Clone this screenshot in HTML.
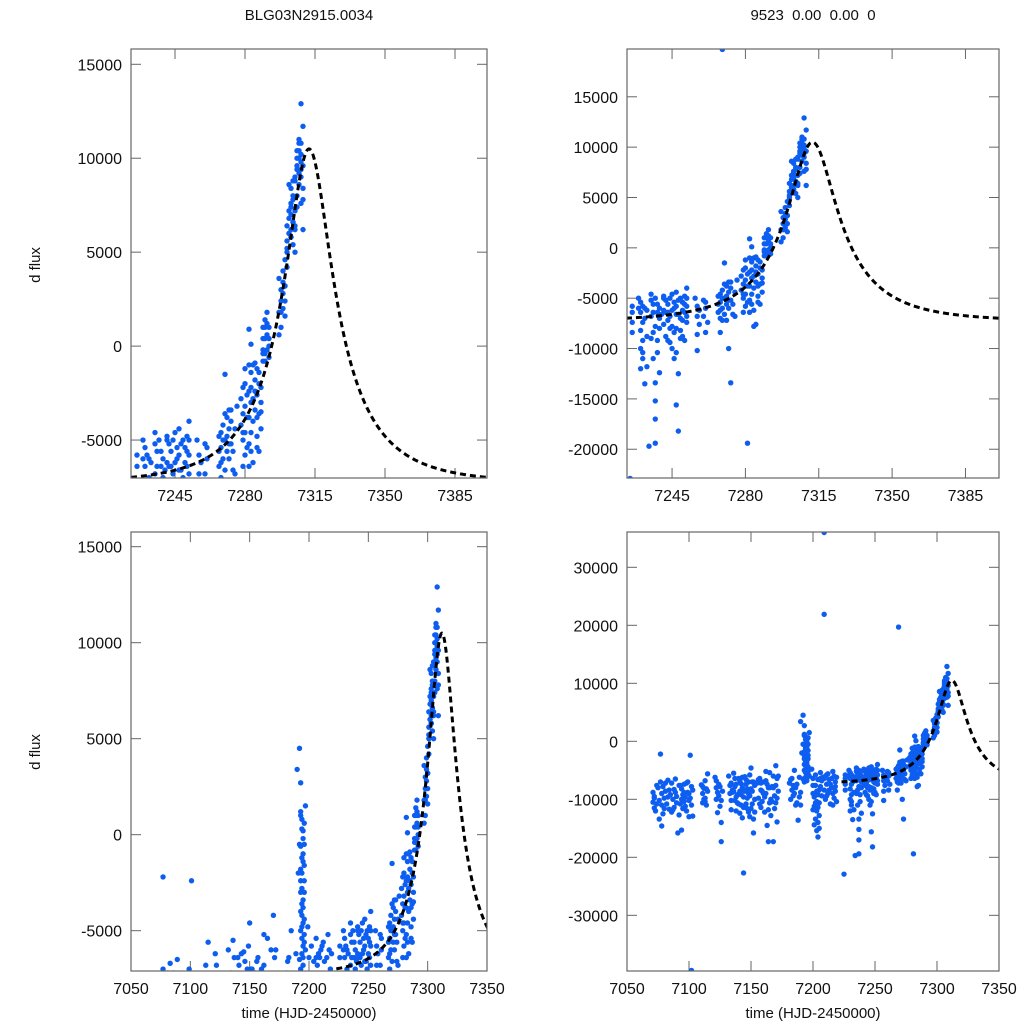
<!DOCTYPE html>
<html><head><meta charset="utf-8">
<style>
html,body{margin:0;padding:0;background:#fff;width:1024px;height:1024px;overflow:hidden;}
svg{display:block;font-family:"Liberation Sans",sans-serif;}
</style></head>
<body>
<svg id="chart" width="1024" height="1024" viewBox="0 0 1024 1024" xmlns="http://www.w3.org/2000/svg">
<text x="309" y="20" font-size="15" text-anchor="middle" fill="#111">BLG03N2915.0034</text>
<text x="813" y="20" font-size="15" text-anchor="middle" fill="#111" xml:space="preserve">9523  0.00  0.00  0</text>
<text x="0" y="0" font-size="15" text-anchor="middle" fill="#111" transform="translate(40,265) rotate(-90)">d flux</text>
<text x="0" y="0" font-size="15" text-anchor="middle" fill="#111" transform="translate(40,752) rotate(-90)">d flux</text>
<text x="309" y="1018" font-size="15" text-anchor="middle" fill="#111">time (HJD-2450000)</text>
<text x="813" y="1018" font-size="15" text-anchor="middle" fill="#111">time (HJD-2450000)</text>
</svg>
<script>
// observations: time (HJD-2450000) and difference flux
const times = [
7071,7071,7072,7072,7073,7074,7075,7076,7077,7077,
7078,7078,7078,7079,7079,7080,7081,7082,7083,7084,
7085,7086,7086,7087,7088,7088,7089,7090,7091,7092,
7093,7094,7095,7096,7097,7098,7099,7100,7101,7102,
7093,7095,7097,7099,7101,7103,7103,7100,7096,7094,
7110,7111,7111,7112,7113,7113,7114,7115,7115,7112,
7121,7122,7122,7123,7124,7124,7125,7126,7126,7127,
7132,7133,7134,7134,7135,7136,7137,7137,7138,7139,
7140,7141,7142,7142,7143,7144,7144,7145,7146,7147,
7148,7148,7149,7150,7150,7151,7152,7152,7153,7153,
7135,7139,7143,7146,7149,7151,7138,7145,7141,7147,
7155,7156,7157,7158,7158,7159,7160,7161,7162,7162,
7163,7164,7164,7165,7165,7166,7167,7168,7169,7170,
7170,7171,7171,7172,7160,7166,7168,7157,7163,7169,
7181,7182,7183,7184,7185,7186,7187,7188,7189,7190,
7182,7186,7184,
7190,7191,7192,7192,7193,7193,7193,7194,7194,7194,
7195,7195,7195,7196,7196,7196,7197,7197,7192,7193,
7193,7194,7194,7195,7195,7196,7196,7194,7195,7193,
7199,7200,7200,7201,7202,7202,7203,7203,7204,7204,
7205,7205,7206,7207,7201,7200,7203,7206,7204,7207,
7208,7209,7209,7209,7210,7211,7212,7213,7214,7215,
7216,7217,7218,7219,7212,7216,7218,7210,7214,7217,
7225,7226,7226,7226,7229,7230,7230,7230,7230,7231,
7231,7231,7232,7232,7233,7234,7235,7235,7235,7236,
7236,7237,7237,7237,7237,7237,7238,7238,7239,7239,
7241,7241,7242,7242,7243,7243,7244,7244,7245,7245,
7246,7246,7247,7247,7247,7248,7248,7248,7249,7249,
7250,7250,7250,7251,7251,7252,7252,7252,7246,7244,
7256,7257,7257,7257,7258,7260,7260,7261,7261,7262,
7267,7267,7268,7268,7268,7269,7269,7269,7270,7270,
7271,7271,7271,7272,7272,7272,7273,7273,7273,7274,
7278,7278,7279,7279,7279,7280,7280,7280,7281,7281,
7282,7282,7282,7283,7283,7283,7284,7284,7284,7285,
7285,7285,7286,7286,7286,7287,7287,7287,7288,7288,
7282,7283,7285,
7289,7289,7289,7290,7290,7290,7291,7291,7292,7292,
7297,7297,7297,7298,7298,7298,7299,7299,7300,7300,
7300,7300,7301,7301,7301,7302,7302,7302,7303,7303,
7303,7303,7304,7304,7304,7305,7305,7305,7306,7306,
7306,7306,7307,7307,7307,7308,7308,7308,7309,7309,
7309,7308,7304,7307
];
const fluxes = [
-8800,-10500,-11500,-9500,-12000,-10800,-8000,-13400,-7000,-2200,
-9000,-11000,-14600,-7800,-12500,-9800,-8600,-10800,-6700,-11700,
-9200,-7200,-12200,-10000,-8300,-11400,-6500,-9500,-15800,-12700,
-10800,-8200,-11600,-7400,-9600,-12000,-8800,-10200,-2400,-39500,
-7600,-9200,-11200,-7000,-9800,-8400,-12900,-13000,-10400,-15300,
-7500,-9000,-10600,-8100,-6800,-9800,-11000,-8600,-5600,-10000,
-6200,-8000,-10000,-12300,-7400,-9400,-11200,-14000,-17300,-8600,
-6000,-9000,-7200,-11800,-8400,-5500,-10200,-7800,-12000,-9200,
-6400,-8600,-11000,-7300,-13200,-9600,-22700,-6100,-10800,-8200,
-12200,-7000,-9400,-4600,-11600,-8600,-13400,-15800,-7600,-10000,
-8800,-10600,-8000,-7400,-13000,-7000,-9600,-11200,-12400,-9800,
-7200,-9800,-6400,-11400,-8400,-10400,-7000,-12200,-5200,-9000,
-14500,-8000,-17300,-10600,-5400,-12800,-7800,-17300,-9400,-4200,
-10600,-6400,-13900,-8600,-9000,-10000,-6000,-10800,-7400,-11600,
-7200,-10000,-8400,-9400,-5000,-8000,-10600,-13600,-6200,-8800,
-6600,-11000,-7600,
3400,-2000,4500,-500,2700,1000,-3000,-4800,-1200,300,
-6800,-3800,-5800,600,-2400,-4400,1500,-6000,-6500,-7000,
-1800,-2800,-5400,-1000,-3400,-500,-5200,-6200,200,-4000,
-4800,-6400,-9000,-11200,-7600,-13400,-8600,-15400,-6600,-16500,
-10600,-12800,-7800,-9400,-14400,-11800,-10400,-5400,-14000,-6800,
-6200,-8400,21900,36000,-10000,-7400,-9000,-6600,-10800,-8000,
-5200,-9800,-7000,-10400,-5600,-11000,-8600,-6000,-7400,-6000,
-22900,-6400,-8400,-7400,-5000,-6400,-8200,-10000,-12000,-7400,
-9200,-11000,-13500,-6000,-8800,-19700,-4600,-6800,-9000,-11000,
-5600,-7800,-13400,-15200,-17000,-19400,-6400,-9200,-7000,-8000,
-5000,-7600,-6400,-8800,-5600,-7200,-6800,-9400,-4600,-7800,
-6000,-8400,-6600,-10400,-15600,-18200,-5200,-12500,-7000,-9000,
-5400,-7200,-8800,-4800,-6400,-4000,-5800,-7400,-11000,-8000,
-5000,-6800,-8600,-10200,-7600,-5200,-6800,-8400,-6000,-7400,
-4800,-6400,-5400,-7000,-8400,19700,-4200,-6000,-5000,-1500,
-3800,-5600,-7200,-4400,-6000,-10000,-3400,-5200,-13400,-6600,
-2800,-4200,-3600,-5000,-6400,-2000,-3200,-4600,-19400,-2600,
-1000,-3800,-5200,-2200,-4600,-1400,-7800,-2800,-6200,-1800,
-3400,-7600,-1200,-2600,-4800,-2000,-3600,-5600,-3000,-3500,
900,100,-900,
1000,-200,-800,1400,400,-400,1800,600,0,1000,
600,1800,3600,2400,1000,3000,2000,4000,3200,1600,
3200,4600,5600,6400,5200,6800,8600,6000,7400,8400,
5800,7000,8000,6600,7800,9000,6200,7200,9600,10400,
8000,10000,9200,10800,11000,12900,9800,10200,11700,6200,
7800,9000,5400,10400
];
// additional observations (denser nights)
const times2 = [
7072,7074,7076,7080,7081,7083,7084,7087,7089,7090,
7092,7094,7096,7098,7100,7102,7102,7111,7113,7114,
7122,7123,7125,7126,7133,7134,7136,7137,7138,7140,
7141,7142,7143,7144,7145,7146,7147,7148,7149,7150,
7151,7152,7153,7156,7158,7159,7161,7162,7164,7165,
7167,7168,7170,7171,7172,7183,7185,7187,7189,7190,
7194,7193,7195,7194,7196,7193,7195,7194,7196,7193,
7195,7194,7196,7193,7195,
7200,7201,7202,7203,7204,7205,7206,7202,7205,7204,
7209,7211,7213,7215,7216,7218,7219,7211,
7226,7229,7230,7231,7232,7233,7235,7236,7237,7238,
7239,7240,7241,7242,7243,7244,7245,7246,7247,7248,
7249,7250,7251,7252,7252,7247,7241,7257,7258,7261,
7236,7238,7243,7245,7249,7251,7231,7233,7239,7247,
7267,7268,7269,7270,7271,7272,7272,7273,7274,7270,
7275,7276,7275,7269,7268,
7279,7280,7281,7281,7282,7283,7283,7284,7284,7285,
7286,7287,7288,7288,7280,7279,7282,7286,
7289,7290,7291,7291,7292,7290,7289,7292,
7298,7299,7299,7300,7301,7301,7302,7302,7303,7303,
7304,7304,7305,7305,7306,7306,7307,7307,7308,7308,
7309,7309,7308,7305,7303
];
const fluxes2 = [
-9800,-7600,-10200,-11600,-7200,-9600,-8400,-11800,-8800,-10600,
-7600,-10000,-8800,-7200,-9000,-11000,-7800,-7800,-10400,-8200,
-6800,-8800,-7800,-10200,-7600,-10200,-8600,-6400,-7400,-10800,
-6800,-9200,-6200,-11400,-8600,-6600,-11600,-9000,-5800,-8200,
-10800,-7000,-12200,-6600,-7200,-8600,-9600,-6800,-11800,-8000,
-10400,-8000,-7600,-9800,-6000,-6400,-9000,-7400,-9600,-11000,
-2000,-600,-4600,-3600,-1600,-5000,-6400,800,-3000,-2400,
-200,-4200,-5600,1200,-1400,
-7600,-9600,-10600,-12000,-9200,-8400,-6400,-5800,-15000,-11400,
-6400,-9400,-8400,-6400,-9000,-7800,-6200,-5800,
-5800,-6000,-5400,-5800,-7000,-6200,-5200,-6400,-5000,-5600,
-6000,-6600,-6200,-5200,-6400,-5000,-6200,-5400,-5800,-6600,
-5000,-6200,-5600,-6800,-5000,-4400,-4800,-5800,-6200,-5400,
-8400,-10400,-9200,-10000,-8200,-9200,-10400,-11800,-12400,-8000,
-5600,-4600,-5000,-6600,-4800,-3400,-5200,-4000,-5600,-3600,
-4400,-3200,-6800,-7200,-6200,
-2200,-1200,-3800,-5400,-2400,-3000,-5600,-1000,-4000,-2400,
-3800,-1400,-4400,-2200,-5800,-4600,-6400,-5400,
400,-800,1200,-200,400,1000,-400,-600,
1800,2800,3400,2400,4200,5000,6000,7200,5800,7600,
6600,8800,6400,8800,7400,9400,8600,10000,9400,10800,
9600,8400,7600,5000,6200
];
// microlensing model fit parameters
const modelT0 = [7312];
const modelTE = [40];
const modelU0 = [0.3];
const modelFs = [7280];
const modelBase = [-7300];
const modelRange = [7223, 7401];

// tick labels
const ticksTop = [7245, 7280, 7315, 7350, 7385];
const ticksBottom = [7050, 7100, 7150, 7200, 7250, 7300, 7350];
const yTicksTL = [-5000, 0, 5000, 10000, 15000];
const yTicksTR = [-20000, -15000, -10000, -5000, 0, 5000, 10000, 15000];
const yTicksBL = [-5000, 0, 5000, 10000, 15000];
const yTicksBR = [-30000, -20000, -10000, 0, 10000, 20000, 30000];

const allT = times.concat(times2);
const allF = fluxes.concat(fluxes2);

const NS = 'http://www.w3.org/2000/svg';
const svg = document.getElementById('chart');
const panels = [
  {name:'top-left', x0:131, x1:487, y0:49, y1:478, t0:7223, t1:7401, f0:-7020, f1:15814, xt:ticksTop, yt:yTicksTL},
  {name:'top-right', x0:627, x1:999, y0:49, y1:478, t0:7223.5, t1:7401, f0:-22856, f1:19746, xt:ticksTop, yt:yTicksTR},
  {name:'bottom-left', x0:131, x1:487, y0:532, y1:971, t0:7050, t1:7350, f0:-7100, f1:15765, xt:ticksBottom, yt:yTicksBL},
  {name:'bottom-right', x0:627, x1:999, y0:532, y1:971, t0:7050, t1:7350, f0:-39600, f1:36086, xt:ticksBottom, yt:yTicksBR}
];
function mk(tag, attrs){ const e=document.createElementNS(NS,tag); for(const k in attrs) e.setAttribute(k,attrs[k]); return e; }
function magnif(t){
  const tau=(t-modelT0[0])/modelTE[0];
  const u=Math.sqrt(modelU0[0]*modelU0[0]+tau*tau);
  return (u*u+2)/(u*Math.sqrt(u*u+4));
}
panels.forEach((p,i)=>{
  const sx=t=>p.x0+(t-p.t0)/(p.t1-p.t0)*(p.x1-p.x0);
  const sy=f=>p.y1-(f-p.f0)/(p.f1-p.f0)*(p.y1-p.y0);
  const g=mk('g',{});
  
  
  svg.appendChild(g);
  const cp=mk('clipPath',{id:'clip'+i});
  cp.appendChild(mk('rect',{x:p.x0,y:p.y0,width:p.x1-p.x0,height:p.y1-p.y0}));
  g.appendChild(cp);
  p.xt.forEach(v=>{
    const x=sx(v);
    const t1=mk('line',{x1:x,x2:x,y1:p.y1,y2:p.y1-10,stroke:'#666','stroke-width':1});
    
    
    g.appendChild(t1);
    const t2=mk('line',{x1:x,x2:x,y1:p.y0,y2:p.y0+10,stroke:'#666','stroke-width':1});
    
    
    g.appendChild(t2);
    const lb=mk('text',{x:x,y:p.y1+23,'font-size':16,'text-anchor':'middle',fill:'#111'});
    
    
    lb.textContent=v;
    g.appendChild(lb);
  });
  p.yt.forEach(v=>{
    const y=sy(v);
    const t1=mk('line',{x1:p.x0,x2:p.x0+10,y1:y,y2:y,stroke:'#666','stroke-width':1});
    
    
    g.appendChild(t1);
    const t2=mk('line',{x1:p.x1,x2:p.x1-10,y1:y,y2:y,stroke:'#666','stroke-width':1});
    
    
    g.appendChild(t2);
    const lb=mk('text',{x:p.x0-9,y:y+6,'font-size':16,'text-anchor':'end',fill:'#111'});
    
    
    lb.textContent=v;
    g.appendChild(lb);
  });
  const dg=mk('g',{'clip-path':'url(#clip'+i+')'});
  
  
  g.appendChild(dg);
  for(let k=0;k<allT.length;k++){
    const c=mk('circle',{cx:sx(allT[k]).toFixed(2),cy:sy(allF[k]).toFixed(2),r:2.7,fill:'#0d5ef0'});
    
    
    dg.appendChild(c);
  }
  let d='';
  for(let t=modelRange[0];t<=modelRange[1];t+=0.5){
    const f=modelBase[0]+modelFs[0]*(magnif(t)-1);
    d+=(d?'L':'M')+sx(t).toFixed(2)+','+sy(f).toFixed(2);
  }
  const path=mk('path',{d:d,fill:'none',stroke:'#000','stroke-width':3,'stroke-dasharray':'6,4','clip-path':'url(#clip'+i+')'});
  
  
  g.appendChild(path);
  const fr=mk('rect',{x:p.x0,y:p.y0,width:p.x1-p.x0,height:p.y1-p.y0,fill:'none',stroke:'#666','stroke-width':1.2});
  
  
  g.appendChild(fr);
});
</script>
</body></html>
